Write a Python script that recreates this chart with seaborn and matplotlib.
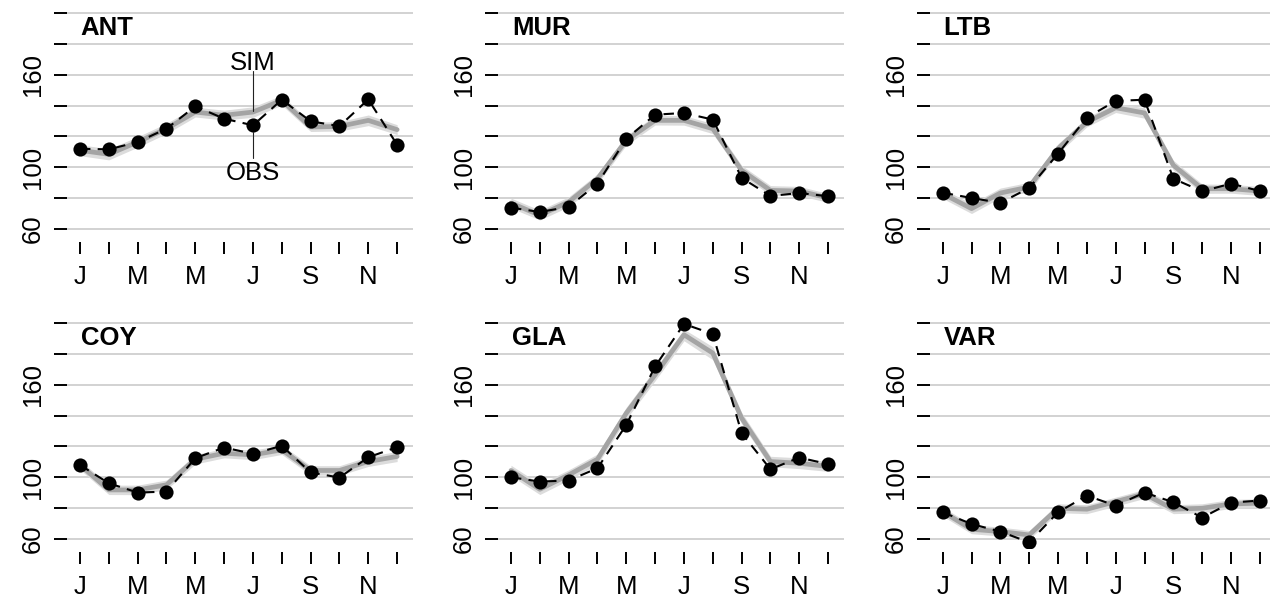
import matplotlib
matplotlib.use("Agg")
import matplotlib.pyplot as plt
import seaborn as sns
import pandas as pd

# ---------------- data ----------------
months = list(range(1, 13))
month_labels = ["J", "", "M", "", "M", "", "J", "", "S", "", "N", ""]
y_ticks = [60, 80, 100, 120, 140, 160, 180, 200]
y_tick_labels = ["60", "", "100", "", "", "160", "", ""]
stations = ["ANT", "MUR", "LTB", "COY", "GLA", "VAR"]

ant_obs = [112.0, 111.6, 116.4, 125.0, 139.5, 131.5, 127.2, 143.8, 129.8, 126.7, 144.0, 114.6]
ant_sim = [111.0, 108.4, 116.4, 125.0, 135.8, 133.7, 135.8, 143.4, 126.1, 126.5, 130.4, 124.4]
ant_lo = [107.5, 104.8, 113.0, 121.8, 132.6, 130.6, 132.4, 140.3, 123.2, 123.5, 127.0, 121.2]
ant_hi = [114.6, 112.0, 119.8, 128.5, 139.0, 137.0, 139.2, 146.6, 129.2, 129.6, 133.9, 127.6]

mur_obs = [73.8, 71.0, 74.3, 89.4, 118.5, 134.1, 135.2, 130.9, 93.1, 81.4, 83.3, 81.2]
mur_sim = [76.8, 68.9, 77.5, 92.6, 117.5, 130.4, 130.4, 125.0, 98.0, 85.0, 84.6, 80.1]
mur_lo = [73.6, 65.8, 74.4, 89.3, 114.4, 127.4, 127.3, 121.8, 94.9, 82.0, 81.6, 77.2]
mur_hi = [80.0, 72.2, 80.8, 95.8, 120.6, 133.4, 133.5, 128.3, 101.2, 88.1, 87.6, 83.0]

ltb_obs = [83.5, 80.1, 76.9, 86.6, 108.8, 132.2, 143.0, 143.8, 92.6, 84.4, 89.4, 84.6]
ltb_sim = [82.9, 73.2, 83.3, 87.2, 112.1, 129.3, 138.6, 135.2, 101.3, 86.1, 86.1, 84.6]
ltb_lo = [79.8, 70.0, 80.2, 84.1, 109.0, 126.2, 135.5, 131.8, 98.2, 83.1, 83.2, 81.7]
ltb_hi = [86.0, 76.4, 86.5, 90.3, 115.2, 132.4, 141.6, 138.5, 104.5, 89.1, 89.0, 87.5]

coy_obs = [108.0, 96.1, 90.1, 90.7, 112.4, 119.3, 115.2, 120.4, 103.1, 99.8, 113.0, 119.5]
coy_sim = [108.0, 91.8, 91.8, 95.1, 111.7, 115.6, 114.5, 117.8, 104.4, 104.4, 110.2, 113.5]
coy_lo = [105.0, 88.8, 88.7, 92.0, 108.6, 112.6, 111.4, 114.8, 101.4, 101.3, 107.0, 110.2]
coy_hi = [111.0, 94.9, 94.9, 98.2, 114.8, 118.6, 117.6, 120.8, 107.5, 107.5, 113.4, 116.8]

gla_obs = [100.0, 97.2, 97.9, 105.9, 134.0, 171.9, 199.4, 192.9, 128.6, 105.2, 112.8, 108.5]
gla_sim = [104.4, 92.2, 101.5, 111.7, 141.6, 166.5, 192.4, 180.5, 138.3, 110.2, 109.1, 107.0]
gla_lo = [101.0, 88.8, 98.2, 108.3, 137.8, 162.6, 188.5, 176.2, 134.6, 106.8, 105.6, 103.8]
gla_hi = [107.8, 95.6, 104.8, 115.1, 145.4, 170.4, 196.0, 184.6, 142.0, 113.6, 112.6, 110.2]

var_obs = [77.3, 69.7, 64.8, 57.8, 77.3, 88.1, 81.6, 90.1, 83.8, 73.8, 83.6, 84.9]
var_sim = [77.7, 66.3, 64.8, 62.6, 79.9, 79.3, 84.2, 89.2, 79.3, 79.9, 82.7, 83.2]
var_lo = [74.8, 63.4, 61.9, 59.8, 77.0, 76.4, 81.3, 86.3, 76.4, 77.0, 79.8, 80.3]
var_hi = [80.6, 69.2, 67.7, 65.5, 82.8, 82.2, 87.1, 92.1, 82.2, 82.8, 85.6, 86.1]

series = {
    "ANT": (ant_obs, ant_sim, ant_lo, ant_hi),
    "MUR": (mur_obs, mur_sim, mur_lo, mur_hi),
    "LTB": (ltb_obs, ltb_sim, ltb_lo, ltb_hi),
    "COY": (coy_obs, coy_sim, coy_lo, coy_hi),
    "GLA": (gla_obs, gla_sim, gla_lo, gla_hi),
    "VAR": (var_obs, var_sim, var_lo, var_hi),
}

# ---------------- style ----------------
sns.set_theme(style="white")
plt.rcParams["font.family"] = ["Liberation Sans", "DejaVu Sans"]

W, H = 1270, 603
fig = plt.figure(figsize=(W / 100, H / 100), dpi=100)

col_left = [67.3, 498.3, 930.0]
row_top = [4.4, 314.4]
ax_w = 345.7
ax_h = 233.2

for i, name in enumerate(stations):
    r, c = divmod(i, 3)
    left = col_left[c] / W
    bottom = (H - row_top[r] - ax_h) / H
    ax = fig.add_axes([left, bottom, ax_w / W, ax_h / H])

    obs, sim, lo, hi = series[name]
    df = pd.DataFrame({"month": months, "obs": obs, "sim": sim, "lo": lo, "hi": hi})

    ax.fill_between(df["month"], df["lo"], df["hi"], color="#dcdcdc", lw=0, zorder=2)
    sns.lineplot(data=df, x="month", y="sim", ax=ax, color="#a4a4a4", lw=3.4,
                 zorder=3, solid_capstyle="round", solid_joinstyle="round")
    sns.lineplot(data=df, x="month", y="obs", ax=ax, color="black", lw=1.5,
                 linestyle=(0, (5, 3.5)), marker="o", markersize=10.2,
                 markeredgewidth=0, markerfacecolor="black", zorder=4)

    ax.set_xlim(0.56, 12.55)
    ax.set_ylim(54.4, 205.6)
    ax.set_xticks(months)
    ax.set_xticklabels(month_labels)
    ax.set_yticks(y_ticks)
    ax.set_yticklabels(y_tick_labels)
    ax.set_xlabel("")
    ax.set_ylabel("")

    for sp in ax.spines.values():
        sp.set_visible(False)
    ax.spines["bottom"].set_position(("outward", 3))

    ax.grid(axis="y", color="#d2d2d2", lw=1.4)
    ax.grid(axis="x", visible=False)
    ax.set_axisbelow(True)

    ax.tick_params(axis="x", direction="out", length=8.5, width=1.4, color="black",
                   pad=8, labelsize=18.5, bottom=True, labelcolor="black")
    ax.tick_params(axis="y", direction="out", length=9.5, width=1.4, color="black",
                   pad=6.5, labelsize=18.5, left=True, labelcolor="black")
    for lab in ax.get_yticklabels():
        lab.set_rotation(90)
        lab.set_va("center")

    ax.text(1.03, 185.7, name, fontsize=18.5, fontweight="bold", ha="left",
            va="baseline", color="black", zorder=6)

    if name == "ANT":
        ax.text(7, 163.0, "SIM", fontsize=18.5, ha="center", va="baseline", color="black")
        ax.plot([7, 7], [162.4, 136.5], color="#222222", lw=0.8, zorder=5)
        ax.text(7, 91.8, "OBS", fontsize=18.5, ha="center", va="baseline", color="black")
        ax.plot([7, 7], [123.0, 105.8], color="#222222", lw=0.8, zorder=5)

fig.savefig("out.png", dpi=100)
